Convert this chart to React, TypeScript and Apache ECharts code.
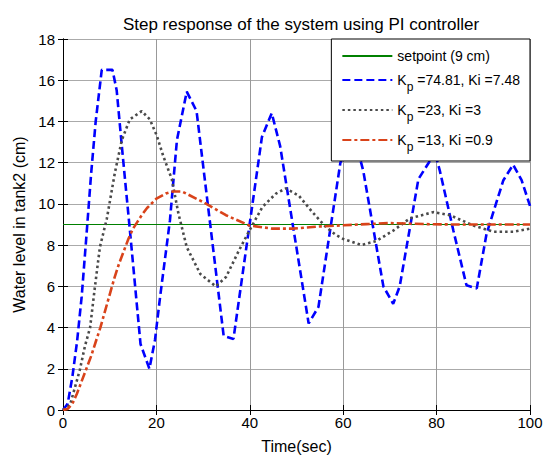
import React, { useEffect, useRef } from "react";
import * as echarts from "echarts";

const FONT = "'Liberation Sans', Arial, Helvetica, sans-serif";

const titleText = "Step response of the system using PI controller";
const xName = "Time(sec)";
const yName = "Water level in tank2 (cm)";
const xTicks = [0, 20, 40, 60, 80, 100];
const yTicks = [0, 2, 4, 6, 8, 10, 12, 14, 16, 18];

const setpointName = "setpoint (9 cm)";
const setpointT = [0, 100];
const setpointV = [9, 9];

const blueName = "Kp =74.81, Ki =7.48";
const blueT = [0, 1, 2, 3, 4, 5, 6, 7, 8.3, 10.6, 11.5, 12.6, 14.5, 16.6, 18.5, 19.7, 20.8, 22.9, 24.4, 26.5, 28.6, 34.4, 36.5, 42.6, 44.7, 46.5, 52.6, 54.7, 59.4, 61.5, 63.6, 64.3, 68.6, 70.7, 72.1, 76.1, 78.6, 79.5, 80.7, 83.6, 86.4, 88.6, 90.7, 94.3, 96.4, 98.2, 100];
const blueV = [0, 0.3, 1.6, 3.3, 5.5, 8.4, 11.4, 14.0, 16.5, 16.5, 15.5, 12.8, 8.3, 3.2, 2.0, 3.4, 5.5, 9.2, 13.1, 15.45, 14.5, 3.6, 3.45, 13.25, 14.4, 12.8, 4.2, 5.0, 12.0, 13.0, 12.2, 11.6, 6.0, 5.15, 6.0, 11.2, 12.1, 12.6, 11.6, 8.7, 6.05, 5.9, 8.55, 11.15, 11.9, 11.15, 9.9];

const grayName = "Kp =23, Ki =3";
const grayT = [0, 1.5, 3.6, 4.7, 5.8, 6.85, 7.9, 9.4, 11.1, 12.6, 14.3, 16.85, 18.6, 20.1, 21.5, 23.3, 24.7, 26.5, 29.4, 32.7, 34.9, 37.7, 39.9, 42.7, 45.6, 47.7, 50.5, 53.4, 56.2, 58.4, 60, 63.9, 67.1, 70.7, 74.3, 79.3, 82.9, 87.9, 92.1, 96.4, 100];
const grayV = [0, 0.24, 1.94, 3.1, 4.0, 6.0, 7.9, 9.3, 11.5, 13.1, 14.1, 14.5, 14.1, 13.3, 12.3, 11.2, 9.55, 7.9, 6.6, 6.0, 6.45, 7.75, 8.7, 9.85, 10.5, 10.75, 10.4, 9.6, 8.9, 8.5, 8.3, 8.0, 8.2, 8.7, 9.3, 9.6, 9.45, 8.95, 8.65, 8.65, 8.8];

const redName = "Kp =13, Ki =0.9";
const redT = [0, 1, 2, 3, 4, 5, 6, 7, 8, 9, 10, 11, 12, 13, 14, 15, 16, 17, 18, 20, 22, 23.5, 25.5, 29.9, 34.9, 39.9, 44.8, 49.1, 54.8, 60, 65, 70, 74.3, 79.3, 85, 90, 95, 100];
const redV = [0, 0.05, 0.3, 0.8, 1.4, 2.0, 2.6, 3.3, 4.0, 4.8, 5.6, 6.4, 7.1, 7.7, 8.3, 8.8, 9.15, 9.5, 9.8, 10.25, 10.5, 10.6, 10.6, 10.1, 9.45, 8.95, 8.8, 8.8, 8.9, 8.96, 9.02, 9.07, 9.04, 9.01, 9.0, 9.0, 9.0, 9.0];

const zip = (t: number[], v: number[]) => t.map((x, i) => [x, v[i]]);

const legendLabel: Record<string, string> = {
  [setpointName]: "{m|setpoint (9 cm)}",
  [blueName]: "{n|K}{s|p}{n| =74.81, Ki =7.48}",
  [grayName]: "{n|K}{s|p}{n| =23, Ki =3}",
  [redName]: "{n|K}{s|p}{n| =13, Ki =0.9}",
};

export default function App() {
  const ref = useRef<HTMLDivElement>(null);
  useEffect(() => {
    if (!ref.current) return;
    const chart = echarts.init(ref.current, null, { renderer: "svg" });
    const axisCommon = {
      type: "value" as const,
      axisLine: { show: true, lineStyle: { color: "#000", width: 1 } },
      axisTick: { show: true, inside: true, length: 5, lineStyle: { color: "#000" } },
    };
    chart.setOption({
      animation: false,
      backgroundColor: "#fff",
      textStyle: { fontFamily: FONT },
      title: {
        text: titleText,
        left: 296,
        textAlign: "center",
        top: 11,
        textStyle: { fontFamily: FONT, fontSize: 17, fontWeight: "normal", color: "#000" },
      },
      grid: { left: 63, right: 19, top: 39, bottom: 52, containLabel: false },
      legend: {
        orient: "vertical",
        right: 19,
        top: 39,
        padding: [10, 10, 8, 10],
        itemGap: 4,
        itemWidth: 50,
        itemHeight: 14,
        backgroundColor: "#fff",
        borderColor: "#000",
        borderWidth: 1,
        borderRadius: 0,
        itemStyle: { opacity: 0 },
        data: [setpointName, blueName, grayName, redName],
        formatter: (name: string) => legendLabel[name] || name,
        textStyle: {
          fontFamily: FONT,
          color: "#000",
          rich: {
            m: { fontFamily: FONT, fontSize: 14, lineHeight: 20, color: "#000" },
            n: { fontFamily: FONT, fontSize: 14, lineHeight: 16, verticalAlign: "middle", color: "#000" },
            s: { fontFamily: FONT, fontSize: 12, lineHeight: 12, padding: [14, 0, 0, 0], color: "#000" },
          },
        },
      },
      xAxis: [
        {
          ...axisCommon,
          min: 0,
          max: 100,
          interval: 20,
          position: "bottom",
          name: xName,
          nameLocation: "middle",
          nameGap: 28,
          nameTextStyle: { fontFamily: FONT, fontSize: 16, color: "#000" },
          axisLabel: { fontFamily: FONT, fontSize: 15, color: "#000", margin: 5, formatter: (v: number) => (xTicks.includes(v) ? String(v) : "") },
          splitLine: { show: true, lineStyle: { color: "#999", width: 1 } },
        },
        {
          ...axisCommon,
          min: 0,
          max: 100,
          interval: 20,
          position: "top",
          axisLabel: { show: false },
          splitLine: { show: false },
        },
      ],
      yAxis: [
        {
          ...axisCommon,
          min: 0,
          max: 18,
          interval: 2,
          position: "left",
          name: yName,
          nameLocation: "middle",
          nameGap: 33,
          nameTextStyle: { fontFamily: FONT, fontSize: 16, color: "#000" },
          axisLabel: { fontFamily: FONT, fontSize: 15, color: "#000", margin: 8, formatter: (v: number) => (yTicks.includes(v) ? String(v) : "") },
          splitLine: { show: true, lineStyle: { color: "#aaa", width: 1 } },
        },
        {
          ...axisCommon,
          min: 0,
          max: 18,
          interval: 2,
          position: "right",
          axisLabel: { show: false },
          splitLine: { show: false },
        },
      ],
      series: [
        {
          name: setpointName,
          type: "line",
          data: zip(setpointT, setpointV),
          symbol: "none",
          lineStyle: { color: "#008000", width: 1.2, type: "solid" },
          itemStyle: { color: "#008000" },
          z: 2,
        },
        {
          name: blueName,
          type: "line",
          data: zip(blueT, blueV),
          symbol: "none",
          lineStyle: { color: "#0000ff", width: 2.6, type: [8, 4] },
          itemStyle: { color: "#0000ff" },
          z: 3,
        },
        {
          name: grayName,
          type: "line",
          data: zip(grayT, grayV),
          symbol: "none",
          lineStyle: { color: "#4a4a4a", width: 2.6, type: [2.5, 3] },
          itemStyle: { color: "#4a4a4a" },
          z: 3,
        },
        {
          name: redName,
          type: "line",
          data: zip(redT, redV),
          symbol: "none",
          lineStyle: { color: "#d9431a", width: 2.6, type: [9, 3, 3, 3] },
          itemStyle: { color: "#d9431a" },
          z: 4,
        },
      ],
    });
    return () => chart.dispose();
  }, []);
  return <div ref={ref} style={{ width: 549, height: 462, position: "absolute", left: 0, top: 0 }} />;
}
